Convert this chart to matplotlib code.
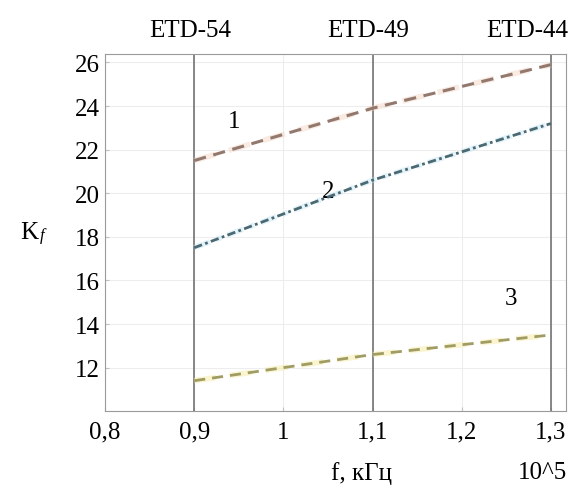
import matplotlib
matplotlib.use("Agg")
import matplotlib.pyplot as plt

plt.rcParams['font.family'] = ['Liberation Serif', 'DejaVu Serif']

# data
f_vals = [0.9, 1.1, 1.3]
kf_1 = [21.5, 23.9, 25.9]
kf_2 = [17.5, 20.6, 23.2]
kf_3 = [11.4, 12.6, 13.5]

core_f = [0.9, 1.1, 1.3]
core_names = ["ETD-54", "ETD-49", "ETD-44"]

x_ticks = [0.8, 0.9, 1.0, 1.1, 1.2, 1.3]
x_labels = ["0,8", "0,9", "1", "1,1", "1,2", "1,3"]
y_ticks = [12, 14, 16, 18, 20, 22, 24, 26]

curve_labels = ["1", "2", "3"]
curve_label_pos = [(0.945, 23.3), (1.05, 20.1), (1.255, 15.2)]

fig = plt.figure(figsize=(5.77, 4.89), dpi=100)
ax = fig.add_axes([0.182, 0.157, 0.799, 0.731])

# grid
ax.grid(True, color='#ededed', lw=0.8)
ax.set_axisbelow(True)

# core boundaries
for xv in core_f:
    ax.axvline(xv, color='#737373', lw=1.2, zorder=2)

# curves (faint halo + dark dash)
dash = (0, (4, 2.5))
ax.plot(f_vals, kf_1, color='#f3d2c0', lw=4.0, ls=dash, alpha=0.45, zorder=3)
ax.plot(f_vals, kf_1, color='#93796d', lw=2.2, ls=dash, zorder=4)
ax.plot(f_vals, kf_2, color='#c4e6f3', lw=4.0, ls=(0, (3, 1.2, 1, 1.2)), alpha=0.45, zorder=3)
ax.plot(f_vals, kf_2, color='#4a6973', lw=2.0, ls=(0, (3, 1.2, 1, 1.2)), zorder=4)
ax.plot(f_vals, kf_3, color='#f6eeaa', lw=4.0, ls=dash, alpha=0.55, zorder=3)
ax.plot(f_vals, kf_3, color='#a09c62', lw=2.0, ls=dash, zorder=4)

for lab, (xx, yy) in zip(curve_labels, curve_label_pos):
    ax.text(xx, yy, lab, fontsize=18, ha='center', va='center')

ax.set_xlim(0.8, 1.317)
ax.set_ylim(10.0, 26.4)
ax.set_xticks(x_ticks)
ax.set_xticklabels(x_labels)
ax.set_yticks(y_ticks)
ax.tick_params(axis='both', labelsize=18, length=3, color='#c0c0c0', direction='in')
ax.tick_params(axis='x', pad=7)
ax.tick_params(axis='y', pad=4)
for sp in ax.spines.values():
    sp.set_color('#9a9a9a')

# top labels for cores
for xv, name in zip(core_f, core_names):
    ha = 'right' if name == "ETD-44" else 'center'
    dx = 0.019 if name == "ETD-44" else -0.005
    ax.text(xv + dx, 1.035, name, transform=ax.get_xaxis_transform(),
            fontsize=18, ha=ha, va='bottom')

fig.text(0.035, 0.524, "K", fontsize=18, ha='left', va='center')
fig.text(0.069, 0.517, "f", fontsize=12, style='italic', ha='left', va='center')
ax.text(1.088, -0.14, "f, кГц", transform=ax.get_xaxis_transform(),
        fontsize=18, ha='center', va='top')
ax.text(1.003, -0.14, "10^5", transform=ax.transAxes,
        fontsize=18, ha='right', va='top')

fig.savefig("out.png", dpi=100)
